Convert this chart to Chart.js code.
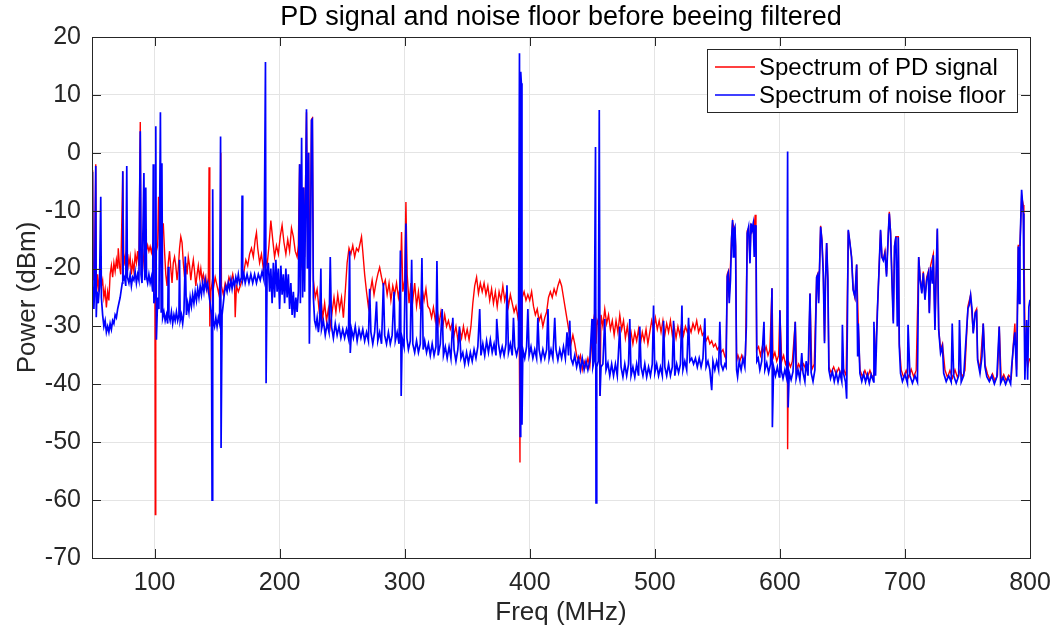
<!DOCTYPE html>
<html><head><meta charset="utf-8">
<script src="https://cdn.jsdelivr.net/npm/chart.js@4.4.1/dist/chart.umd.min.js"></script>
<style>html,body{margin:0;padding:0;background:#fff;overflow:hidden}#wrap{position:relative;width:1056px;height:633px}</style>
</head><body><div id="wrap"><canvas id="c" width="1056" height="633"></canvas></div>
<script>
const FONT = '"Liberation Sans", Arial, Helvetica, sans-serif';
const titleText = 'PD signal and noise floor before beeing filtered';
const xTitle = 'Freq (MHz)';
const yTitle = 'Power (dBm)';
const seriesNames = ['Spectrum of PD signal', 'Spectrum of noise floor'];
const xTicks = [100, 200, 300, 400, 500, 600, 700, 800];
const yTicks = [-70, -60, -50, -40, -30, -20, -10, 0, 10, 20];

const noiseFreq = [
50, 50.4, 50.8, 51.5, 52.2, 53, 53.4, 54, 55, 56,
57, 57.5, 58.5, 59.5, 60.5, 61.5, 62.5, 63.5, 64.5, 65.5,
66.5, 67.5, 68.5, 69.5, 70.5, 71.5, 72.5, 73.5, 74.2, 74.6,
75, 76, 77, 77.8, 78.3, 79.5, 80.5, 81.5, 82.5, 83.5,
84.5, 85.5, 86.5, 87.5, 88.6, 89.2, 90, 91.5, 92.2, 93,
93.6, 94.5, 95.5, 96.5, 97.5, 98.5, 99, 99.5, 100.5, 101,
101.5, 102.5, 103.5, 104.7, 105.3, 105.9, 106.5, 107.5, 108.5, 109.5,
110.5, 111, 111.5, 112.5, 113.5, 114.5, 115.5, 116.5, 117.5, 118.5,
119.5, 120, 120.5, 121.5, 122.5, 123.5, 124.6, 125.5, 126.5, 127.5,
128.5, 129.5, 130.5, 131.5, 132.5, 133.5, 134.5, 135.5, 136.5, 137.5,
138.5, 139.5, 140.5, 141.5, 142.5, 143.5, 144.5, 145.5, 146, 146.5,
147, 148, 149, 150, 151, 152, 152.8, 153.2, 154, 155,
156, 157, 158, 159, 160, 161, 162, 163, 164, 165,
166, 167, 168, 169.5, 170, 170.5, 171.5, 172.5, 174, 175.5,
177, 178.5, 180, 181.5, 183, 184.5, 186, 187.5, 188.7, 189.2,
190, 191, 192, 193, 194, 195, 196, 197, 198, 199,
200, 201, 202, 203, 204, 205, 206, 207, 208, 209,
210, 211, 212, 213, 214, 215, 216, 216.6, 217.6, 218.4,
219.2, 220, 221.5, 222.2, 223.2, 223.8, 224.6, 225.5, 226.2, 227,
228, 229, 230, 231, 232, 233, 233.5, 235, 236.5, 238,
239.5, 240.5, 241.5, 243, 244.5, 246, 247.5, 249, 250.5, 252,
253.5, 255, 256, 256.5, 257.5, 259, 260.5, 262, 263.5, 265,
266.5, 268, 269.5, 271, 272, 273, 274.5, 276, 277.5, 278.5,
280, 281.5, 283, 284, 285.5, 287, 288.5, 290, 291.5, 292.5,
294, 295.5, 296.6, 297.2, 298, 299.5, 301, 301.8, 303, 304.5,
305.6, 306.5, 308, 309.5, 311, 312.5, 313.8, 314.8, 316, 317.5,
319, 320.5, 322, 323.5, 325, 325.8, 326.8, 328.5, 330, 331,
332.5, 334, 335.5, 337, 338.5, 339.5, 341, 342.5, 343.8, 345,
346.5, 348, 349.5, 351, 352.5, 354, 355.5, 357, 358.5, 360,
361, 362.5, 364, 365.5, 367, 368.5, 370, 371.5, 373, 373.6,
375, 376.5, 378, 379.5, 381, 381.8, 383, 384.5, 386, 387,
388, 389.5, 391, 391.8, 392.4, 392.8, 393.3, 393.8, 394.5, 396,
397.5, 398.5, 399.5, 401, 402.5, 404, 405.5, 406.5, 407.5, 409,
410.5, 412, 413.5, 414.6, 415.5, 417, 418.5, 420, 421, 422.5,
424, 425.5, 427, 428.5, 429.8, 431, 432, 433, 434.5, 436,
437.5, 439, 440.5, 442, 443.5, 445, 446.5, 448, 449.8, 450.5,
451.5, 452.6, 453, 453.6, 454.8, 455.6, 456.2, 457, 458.5, 460,
461, 462.5, 464, 465.5, 467, 468.5, 470, 472, 473, 474.5,
476, 477.5, 479, 480, 481, 482.5, 484, 485.5, 487, 488,
489, 490.5, 492, 493.5, 495, 496.5, 498, 499, 500, 501.5,
503, 504.5, 506, 507, 508, 509.5, 511, 512.5, 514, 515,
516, 517.5, 519, 520.5, 521.7, 522.5, 524, 525.5, 527, 528,
529.5, 531, 532.5, 534, 535.5, 537, 538.5, 540, 541, 542.5,
544, 545.5, 546.5, 548, 549.5, 551, 552, 553, 554.5, 556,
557, 557.9, 558.7, 559.5, 560.5, 561.4, 562.2, 562.8, 563.3, 564.1,
564.6, 565.4, 566.2, 567.5, 569, 570.5, 572, 573.2, 573.9, 575,
576.1, 576.9, 577.7, 578.7, 579.5, 580.3, 580.9, 581.6, 582.7, 584,
585.5, 587.3, 588, 589.5, 591, 592.5, 593.7, 594, 595, 596.5,
598, 599.5, 600, 601, 602.5, 604, 605.5, 606.2, 606.6, 607.5,
609, 610.5, 612.3, 613, 614.5, 616, 617.5, 618.5, 620, 621,
622.5, 624.1, 625, 626.5, 628, 629.4, 630.2, 631, 632.6, 633.6,
634.7, 635.7, 636.5, 637.4, 638.4, 639.2, 640.5, 642, 643.5, 645,
646.5, 648, 649.5, 650, 651, 652.5, 653.4, 654.7, 656, 657.3,
658.6, 660, 661.4, 662.2, 662.7, 664, 665.5, 667, 668.5, 670,
671.5, 673, 675, 675.2, 676.5, 678.1, 679.2, 680.5, 681.6, 682.7,
684, 685.3, 686.7, 687.5, 688.5, 689.6, 690.7, 691.7, 692.8, 693.9,
694.7, 695.5, 696.5, 698, 700, 702, 702.5, 704, 706, 708,
710, 711, 712.2, 713.5, 714.7, 716, 717.4, 718.7, 719.5, 720.5,
721.9, 722.7, 724, 724.8, 725.9, 727, 728.5, 730, 731, 733,
735, 737, 737.8, 739, 741, 743, 743.6, 745, 747, 750.4,
751.4, 752.5, 753.6, 754.6, 756.2, 757.3, 758.1, 760, 761.6, 762.6,
764, 765.5, 767.5, 769.5, 771.5, 773.5, 775.4, 776.5, 778.5, 780.5,
782.5, 784.5, 785.3, 786.7, 787.9, 789.3, 790.6, 791.5, 792, 793.3,
794.6, 795.1, 795.9, 797.3, 798.1, 799.1, 800
];
const noisePower = [
-22, -3.3, -24, -27, -23, -2.3, -28.4, -24, -26, -23,
-7.6, -25, -28, -30, -29, -31, -30, -31, -29.5, -30.5,
-29, -29.5, -28, -28.5, -27, -26, -25, -23.5, -22.5, -3.2,
-22, -21.5, -23, -2.3, -21.5, -22.5, -21, -23, -21.5, -22,
-20.5, -22.5, -21, -22, 3.7, -21, -22.5, -3.5, -22, -6,
-21.5, -22.5, -21, -22.5, -21.5, -24, -2, -26, -24.5, 4.6,
-32.3, -25, -27, 7, -27.5, -1.8, -28.5, -27.5, -29, -28,
-29.5, -19.7, -28, -29, -27.5, -29.5, -28, -29, -27.5, -29,
-28, -18.5, -29, -28, -29.5, -27.5, -17.9, -28, -26, -27.5,
-25, -26.5, -24.5, -26, -24, -25.5, -23.5, -25, -23, -24.5,
-22.5, -24, -22, -23.5, -22.5, -24.5, -26, -28, -60, -6.3,
-29, -30, -28.5, -30, -28.5, -29.5, 2.8, -51, -28, -26,
-24, -23, -24, -22.5, -23.5, -22, -23.5, -22, -23, -21.5,
-22.5, -21, -22.5, -21.5, -7.4, -22, -21, -22.5, -21, -22.5,
-21, -22.5, -21, -22.5, -21, -22, -20.5, -22, 15.7, -39.8,
-21, -19, -24, -20, -26, -19, -25, -18.5, -24, -20,
-27, -19.5, -24.5, -21, -26, -20, -25, -21, -27, -22.5,
-28, -24, -28.5, -25, -27.5, -24, -2, -26, 2.6, -25,
-6, -24, 7.5, -20, 0, -33, -20, 5.6, 5.8, -25,
-29, -30, -28.5, -31, -29, -20, -30.5, -29, -31.5, -29.5,
-31, -18, -30, -32, -29.5, -31.5, -30, -32, -30.5, -32,
-30.5, -32, -17, -34.6, -30.5, -32, -30, -32.5, -30.5, -32,
-30.5, -32.5, -31, -32.5, -23.5, -31, -33, -31, -25.7, -32.5,
-31, -33, -22.5, -31.5, -33, -31, -33, -31.5, -24, -32.5,
-31, -33, -16.9, -42, -32, -33.5, -12.2, -32, -34, -32.5,
-18.5, -33, -34.5, -32.5, -34.5, -33, -18.2, -34, -32.5, -34.5,
-33, -35, -33, -35, -33.5, -18.7, -35, -33, -27, -35,
-33.5, -35.5, -33.5, -35.5, -28.5, -34, -36, -34, -30, -35.5,
-34.5, -36.5, -34.5, -36.3, -34.5, -36, -34, -35.5, -33.5, -27,
-35, -33, -35, -32.5, -34.5, -32.3, -34.5, -33, -35, -28.7,
-33, -35, -33.5, -35, -33, -22.9, -34.5, -33, -35, -28.5,
-33.5, -35, -33.5, 17.2, -49, 14, 12, -47, -34, -35.5,
-33.5, -27, -35, -33.5, -35.5, -34, -35.5, -28.5, -34, -35.8,
-34, -35.5, -34, -27, -35.5, -34, -35.5, -28.5, -34, -35.8,
-34, -35.5, -33.5, -35.5, -31, -35, -29, -35.5, -36.5, -35,
-37, -35.5, -37.5, -35.5, -37.5, -36, -37.5, -36, -28.7, -37,
-36, 1, -60.5, -37, -36, 7.4, -42, -37, -36.5, -28.7,
-37.5, -36.3, -38.5, -36.5, -38.5, -36.5, -38.5, -30, -37, -38.7,
-36.5, -38.5, -36.5, -28.7, -38.5, -37, -38.7, -36.5, -38.5, -30,
-37, -38.5, -36.5, -38.7, -37, -38.5, -36.5, -26.4, -38, -36.5,
-38.5, -37, -38.5, -29, -37, -38.5, -36.5, -38.5, -37, -29,
-38.5, -36.5, -38, -36.5, -26.4, -37.5, -36, -37.5, -28.5, -36,
-35.5, -36.5, -35.5, -37, -35.5, -37, -35.5, -28.6, -37, -36,
-37.5, -41, -36, -37.5, -36, -37.5, -29.2, -36.5, -37.5, -36.5,
-37, -21.4, -20.8, -26, -22, -14.8, -11.6, -18, -13.3, -12.8,
-16.2, -37.5, -38.7, -36, -37.5, -35.5, -37, -30, -13.9, -12.8,
-19.1, -12.2, -13.3, -12.2, -18, -12.5, -14.5, -36, -35.5, -37.5,
-36, -29.2, -37.5, -36.3, -38, -36.5, -23.4, -47.4, -37, -38.5,
-37, -38.7, -27.2, -37.5, -39, -37.5, -39, 0.2, -44, -38,
-39.2, -37.8, -29.2, -39, -37.5, -39.2, -34.6, -38, -39.5, -36,
-38.5, -24.3, -38, -39.5, -37.5, -21.5, -21.1, -26, -12.8, -15.1,
-20.8, -32.9, -22, -15.6, -22, -37.5, -39, -37.8, -39.5, -38,
-39.6, -38, -39.5, -29.7, -38.2, -39.6, -42.5, -13.3, -15.6, -18,
-23.7, -24.9, -19.3, -35.2, -29.5, -38.1, -39.5, -38.2, -39.6, -38.3,
-39.8, -38.3, -39.6, -29.2, -38.5, -26.6, -20.8, -13.3, -18, -18.6,
-17.4, -21.4, -13.9, -10.5, -13.9, -22, -29.5, -16.2, -14.5, -30,
-14.6, -33.5, -38.1, -39.5, -38.3, -39.8, -29.7, -38.5, -39.8, -38.5,
-39.6, -18, -22, -24.3, -20.8, -25.4, -22, -20.8, -27.7, -19.7,
-22.6, -17.7, -30.6, -22, -13.1, -30.6, -34.6, -33.5, -38.1, -39.5,
-38.5, -39.6, -29.5, -38.5, -39.8, -38.5, -28.9, -39.6, -38.5, -26.9,
-26.3, -24.6, -26.9, -31.2, -27.7, -27.4, -35.8, -38.1, -35.2, -29.5,
-37, -38.7, -39.5, -38.5, -39.9, -38.7, -30, -39.8, -38.8, -40,
-38.8, -39.9, -37, -33.5, -31, -38.7, -16.2, -26, -16.2, -6.4,
-10.5, -22, -39.2, -28.9, -39.2, -26.6, -25.4
];

const pdFreq = [
50, 50.5, 51, 52, 53, 53.5, 54.5, 55.5, 56.5, 57.5,
58.5, 59.5, 60.5, 61.5, 62.5, 63.5, 64.5, 65.5, 66.5, 67.5,
68.5, 69.5, 70.5, 71, 72, 73, 74.6, 75.5, 76.5, 77.5,
78.5, 79.5, 80.5, 81.5, 82.5, 83.5, 84.5, 85.5, 86.5, 87.5,
88.6, 89.2, 90.5, 91.5, 92.5, 93.5, 94.5, 95.5, 96.5, 97.5,
98.5, 99.5, 100.3, 100.6, 101, 101.5, 102.5, 103.2, 104, 105,
106, 107, 108, 109, 110, 111, 112, 113, 114, 115,
116, 117, 118, 119, 120, 121, 122, 123, 124, 125,
126, 127, 128, 129, 130, 131, 132, 133, 134, 135,
136, 137, 138, 139, 140, 141, 142, 143, 143.6, 144.2,
145, 146, 147, 148.5, 150, 151.5, 152.5, 153, 153.5, 155,
156.5, 158, 159.5, 161, 162.5, 164, 164.5, 165.5, 167, 168.5,
170, 171.5, 173, 174.5, 176, 177.5, 179, 180.5, 181.5, 182.5,
184, 185.5, 187, 188.5, 190, 191.5, 193, 194.5, 196, 197.5,
199, 200.5, 202, 203.5, 205, 206.5, 208, 209.5, 211, 212.5,
214, 215, 216, 217, 218, 219.2, 220, 221.5, 222.5, 223.2,
224.2, 225.5, 226.2, 227, 228.5, 230, 231.5, 233, 234.5, 236,
237.5, 239, 240.5, 242, 243.5, 245, 246.5, 248, 249.5, 251,
252.5, 254, 255.5, 257, 258.5, 260, 261.5, 263, 264.5, 265.5,
266.5, 268, 269.5, 271, 272.5, 274, 275.5, 277, 278.5, 280,
281.5, 283, 284.5, 286, 287.5, 289, 290.5, 292, 293.5, 295,
296.5, 297.5, 298.5, 300, 301, 302, 303.5, 305, 306.5, 308,
309.5, 311, 312.5, 314, 315.5, 317, 318.5, 320, 321.5, 323,
324.5, 326, 327.5, 329, 330.5, 332, 333.5, 335, 336.5, 338,
339.5, 341, 342.5, 344, 345.5, 347, 348.5, 350, 351.5, 353,
354.5, 356, 357.5, 359, 360.5, 362, 363.5, 365, 366.5, 368,
369.5, 371, 372.5, 374, 375.5, 377, 378.5, 380, 381.5, 383,
384.5, 386, 387.5, 389, 390.5, 391.5, 392.2, 392.6, 393.2, 394,
395.5, 397, 398.5, 400, 401.5, 403, 404.5, 406, 407.5, 409,
410.5, 412, 413.5, 415, 416.5, 418, 419.5, 421, 422.5, 424,
425.5, 427, 428.5, 430, 431.5, 433, 434.5, 436, 437.5, 439,
440.5, 442, 443.5, 445, 446.5, 448, 449.5, 451, 452.5, 453,
454, 455.6, 456.2, 457, 458.5, 460, 461.5, 463, 464.5, 466,
467.5, 469, 470.5, 472, 473.5, 475, 476.5, 478, 479.5, 481,
482.5, 484, 485.5, 487, 488.5, 490, 491.5, 493, 494.5, 496,
497.5, 499, 500.5, 502, 503.5, 505, 506.5, 508, 509.5, 511,
512.5, 514, 515.5, 517, 518.5, 520, 521.5, 523, 524.5, 526,
527.5, 529, 530.5, 532, 533.5, 535, 536.5, 538, 539.5, 541,
542.5, 544, 545.5, 547, 548.5, 550, 551.5, 553, 554.5, 556,
557, 557.9, 558.7, 559.5, 561.4, 562.2, 563.3, 564.1, 564.6, 565.4,
566.5, 568, 569.5, 571, 572.5, 573.9, 575, 576.1, 576.9, 578,
579, 580.3, 580.9, 581.4, 583, 584.5, 586, 587.5, 589, 590.5,
592, 593.7, 594.5, 596, 597.5, 599, 600, 601.5, 603, 604.5,
606, 606.2, 606.8, 608.5, 610, 612.3, 613.5, 615, 617, 619,
621, 623, 624.1, 625.5, 627.5, 629.4, 630.2, 631, 632.6, 633.6,
634.7, 635.7, 636.5, 637.4, 638.4, 639.2, 641, 643, 645, 647,
649, 651, 653, 654.7, 656, 657.3, 658.6, 660, 661.4, 662.7,
664, 666, 668, 670, 672, 674, 676, 678.1, 679.2, 680.5,
681.6, 682.7, 684, 685.3, 686.7, 687.5, 688.5, 689.6, 690.7, 691.7,
692.8, 694.7, 695.5, 697, 699, 701, 703, 705, 707, 709,
711, 712.2, 713.5, 714.7, 716, 717.4, 718.7, 719.5, 720.5, 722.7,
724, 725.9, 727, 728.5, 730, 732, 734, 736, 738, 740,
742, 744, 746, 748, 750.4, 752.5, 754.6, 756.2, 757.3, 758.1,
760, 762.6, 764, 766, 768, 770, 772, 774, 775.4, 777,
779, 781, 783, 785, 786.7, 787.9, 789.3, 790.6, 792, 793.3,
794.6, 795.1, 795.9, 796.5, 797.3, 798.1, 799.1, 800
];
const pdPower = [
-19, -3, -22, -20, -2, -25, -21, -24, -20, -23,
-22, -25, -23.6, -26.7, -24, -25.5, -21, -19.5, -21.5, -19,
-20.5, -18.5, -20, -16.5, -19.5, -21, -3.2, -19.5, -18, -20.5,
-17.5, -19.5, -18, -21, -19, -20.5, -17.5, -19, -17, -19.5,
5.3, -18, -20, -17.5, -19, -17, -16, -17, -16.2, -17.2,
-16, -17, -16.5, -62.5, -32, -17, -16, -7.6, -15, -12,
-14, -12.2, -17, -21, -23, -19, -17, -20, -22.5, -19,
-18, -19.5, -22, -20, -16.5, -14.5, -15.5, -19, -21.5, -19,
-21, -18, -19.5, -22, -20, -18.5, -20.5, -23, -21, -19.5,
-21.5, -20, -22, -21, -22.5, -21.5, -23.6, -22, -2.5, -30,
-24, -22.5, -23.5, -21.5, -23, -24.5, -22, 0, -23, -24.5,
-22.5, -23.5, -21.5, -22.5, -21, -23, -28.4, -23, -24, -23,
-22, -20.5, -18.5, -19.5, -17.5, -16.5, -18, -15, -13.8, -16.5,
-19, -17.5, -20, -18, -19.5, -16, -11.7, -15, -18, -16,
-17.5, -14.5, -12.5, -15.5, -17.5, -15, -17, -13, -14.5, -17,
-18, -16, -2, -19, -20, -6, -18, 7, -20, 0,
-22, 5.8, 6, -22, -25, -23.6, -27, -25, -28.5, -26,
-29, -27, -30, -27.5, -25, -27.5, -24.5, -27, -25, -28.5,
-24, -19, -16.5, -17.5, -16, -18, -16.5, -17, -15.5, -14.5,
-17, -21, -24, -26.6, -24, -22, -24.5, -22.5, -21, -19.8,
-21.5, -23, -22, -24.5, -22.5, -25.5, -23, -24.5, -22.5, -25,
-23, -13.7, -24, -22, -8.5, -21, -26, -22.5, -25.5, -22.5,
-26.5, -24, -27, -23.5, -25.5, -23.5, -26.5, -27, -28.5, -26.7,
-29, -27, -29.5, -27.5, -30, -28, -30, -29, -30.5, -29.5,
-31.5, -30, -32.3, -30.5, -32, -30, -32, -30.5, -32.3, -30,
-26, -23, -21.5, -24.3, -22.5, -24, -22.5, -24.5, -23, -25.5,
-23.5, -26, -24, -26.6, -24, -25.5, -23, -25.5, -24, -26.5,
-24.5, -26, -27.5, -26.5, -28.4, -27, -53.5, 12, -45, -25,
-24, -25.5, -24.5, -25.5, -24, -26.5, -28, -27, -29, -28,
-30, -28.5, -27.5, -25, -24, -25, -23.5, -24.5, -23, -22,
-23, -25, -27, -29, -31, -33, -31.5, -33, -35, -36,
-35, -37.5, -36, -37, -35.5, -37, -33, -29, -27, -33,
-29, -30, -42, -28, -30, -27, -29.5, -28, -30.5, -29,
-31.5, -29, -31, -28, -30.5, -29, -32, -30, -32.5, -31,
-33, -31, -32.5, -30.5, -33, -31, -32.5, -30.5, -33, -31,
-29, -30.5, -28.5, -30.5, -29, -31, -29, -31.5, -29.5, -31,
-29, -31.5, -30, -32, -30, -31.5, -29.5, -31.5, -30, -31,
-30, -31, -29.5, -30.5, -29, -31, -30, -31.5, -31, -32.5,
-31.8, -33, -32.5, -33.5, -33, -34, -33.5, -34.5, -34, -35.2,
-35.6, -21, -20.5, -25, -14.5, -12, -13, -13, -16, -36,
-35, -36, -35, -36, -35, -13.5, -13, -18.5, -12.5, -13,
-14, -10.7, -15, -34.1, -33.5, -35, -33.5, -34.5, -33.5, -35,
-34, -23.4, -35.5, -34.5, -36, -35, -27.2, -36, -35, -36.5,
-35.5, -51.2, -36, -37, -36, -29.2, -37.5, -36.5, -37.5, -36.5,
-37.5, -36.5, -24.3, -37.5, -36.5, -21.5, -21, -25.5, -12.6, -15,
-20.5, -32.5, -22, -15.6, -22, -37, -38, -37, -38.2, -37.2,
-38.4, -37.4, -38.5, -13.5, -15.5, -18, -23.5, -25, -19.3, -29.5,
-37.5, -38.7, -37.6, -38.8, -37.6, -38.9, -37.8, -26.5, -20.5, -13.5,
-18, -18.5, -17, -21, -14, -10.2, -13.5, -21.5, -29, -16,
-14.5, -14.5, -33, -37.5, -38.8, -37.6, -38.8, -37.4, -38.7, -37.6,
-18, -21.5, -24, -20.5, -25, -21.5, -20.5, -27.5, -19.5, -17.5,
-30, -13.3, -30.5, -34, -33, -37.5, -38.8, -37.6, -38.9, -37.5,
-38.8, -37.6, -38.7, -37.6, -26.5, -24.6, -31, -27.5, -27, -35.5,
-37.5, -29.5, -36.5, -38.2, -39.2, -38.2, -39.4, -38.4, -30, -39.3,
-38.3, -39.4, -38.4, -39, -33, -29.5, -37.5, -16, -16, -7.5,
-9, -14, -30, -36, -35, -37, -36, -35.5
];

const INK = '#262626';
const pdData = pdFreq.map((f, i) => ({ x: f, y: pdPower[i] }));
const noiseData = noiseFreq.map((f, i) => ({ x: f, y: noisePower[i] }));

const framePlugin = {
  id: 'matlabFrame',
  afterDraw(chart) {
    const ctx = chart.ctx;
    const a = chart.chartArea;
    const xs = chart.scales.x, ys = chart.scales.y;
    ctx.save();
    ctx.strokeStyle = INK;
    ctx.lineWidth = 1;
    ctx.beginPath();
    xTicks.forEach(v => {
      const px = Math.round(xs.getPixelForValue(v)) + 0.5;
      ctx.moveTo(px, a.bottom); ctx.lineTo(px, a.bottom - 9);
      ctx.moveTo(px, a.top); ctx.lineTo(px, a.top + 9);
    });
    yTicks.forEach(v => {
      const py = Math.round(ys.getPixelForValue(v)) + 0.5;
      ctx.moveTo(a.left, py); ctx.lineTo(a.left + 9, py);
      ctx.moveTo(a.right, py); ctx.lineTo(a.right - 9, py);
    });
    ctx.stroke();
    ctx.strokeRect(Math.round(a.left) + 0.5, Math.round(a.top) + 0.5,
      Math.round(a.right - a.left), Math.round(a.bottom - a.top));
    ctx.fillStyle = '#000';
    ctx.font = '27px ' + FONT;
    ctx.textAlign = 'center';
    ctx.textBaseline = 'middle';
    ctx.fillText(titleText, (a.left + a.right) / 2, 18);
    ctx.fillStyle = INK;
    ctx.font = '26px ' + FONT;
    ctx.fillText(xTitle, (a.left + a.right) / 2, 613);
    ctx.save();
    ctx.translate(28, (a.top + a.bottom) / 2);
    ctx.rotate(-Math.PI / 2);
    ctx.fillText(yTitle, 0, 0);
    ctx.restore();
    const lx = 707.5, ly = 49.5, lw = 310, lh = 63;
    ctx.fillStyle = '#fff';
    ctx.fillRect(lx, ly, lw, lh);
    ctx.strokeStyle = INK;
    ctx.strokeRect(lx, ly, lw, lh);
    const cols = ['#ff0000', '#0000ff'];
    const rowsY = [67, 95];
    ctx.font = '24px ' + FONT;
    ctx.textAlign = 'left';
    seriesNames.forEach((name, i) => {
      ctx.strokeStyle = cols[i];
      ctx.lineWidth = 1.5;
      ctx.beginPath();
      ctx.moveTo(715, rowsY[i]); ctx.lineTo(755, rowsY[i]);
      ctx.stroke();
      ctx.fillStyle = '#000';
      ctx.fillText(name, 759, rowsY[i] + 1);
    });
    ctx.restore();
  }
};

new Chart(document.getElementById('c'), {
  type: 'line',
  data: {
    datasets: [
      { label: seriesNames[0], data: pdData, borderColor: '#ff0000', borderWidth: 1.4,
        pointRadius: 0, tension: 0, fill: false, order: 2 },
      { label: seriesNames[1], data: noiseData, borderColor: '#0000ff', borderWidth: 1.7,
        pointRadius: 0, tension: 0, fill: false, order: 1 }
    ]
  },
  options: {
    responsive: false,
    devicePixelRatio: 1,
    animation: false,
    layout: { padding: { top: 37, right: 26, left: 0, bottom: 0 } },
    plugins: { legend: { display: false }, title: { display: false }, tooltip: { enabled: false } },
    scales: {
      x: {
        type: 'linear', min: 50, max: 800,
        afterBuildTicks: s => { s.ticks = xTicks.map(v => ({ value: v })); },
        afterFit: s => { s.height = 75; s.paddingLeft = 0; s.paddingRight = 0; },
        grid: { color: '#e4e4e4', lineWidth: 1, drawTicks: false },
        border: { display: false },
        ticks: { color: INK, font: { family: FONT, size: 25 }, padding: 10, maxRotation: 0, autoSkip: false }
      },
      y: {
        type: 'linear', min: -70, max: 20,
        afterBuildTicks: s => { s.ticks = yTicks.map(v => ({ value: v })); },
        afterFit: s => { s.width = 92; },
        grid: { color: '#e4e4e4', lineWidth: 1, drawTicks: false },
        border: { display: false },
        ticks: { color: INK, font: { family: FONT, size: 25 }, padding: 11, autoSkip: false }
      }
    }
  },
  plugins: [framePlugin]
});
</script></body></html>
